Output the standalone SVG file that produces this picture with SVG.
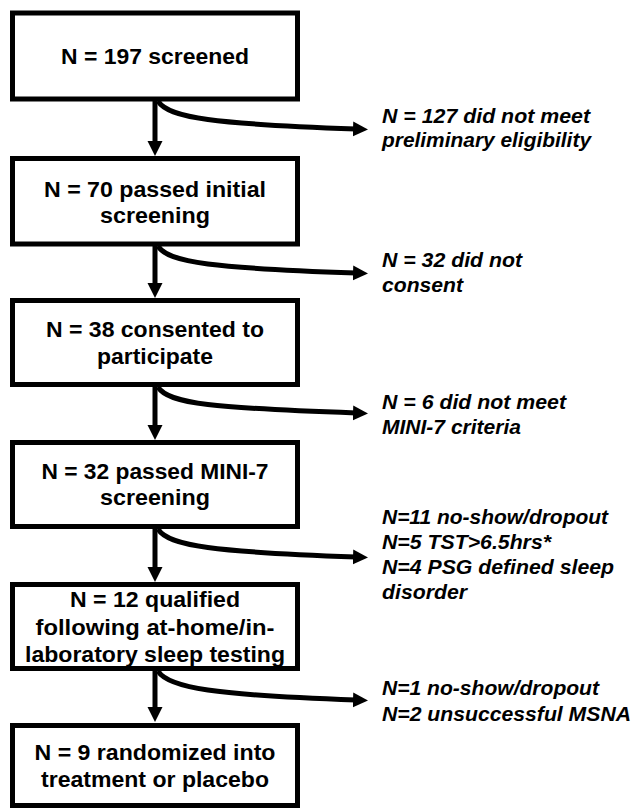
<svg xmlns="http://www.w3.org/2000/svg" width="633" height="810" viewBox="0 0 633 810">
<style>
.box{fill:#fff;stroke:#000;stroke-width:5}
.bt{font-family:"Liberation Sans",Arial,sans-serif;font-size:22.5px;font-weight:bold;text-anchor:middle;fill:#000}
.lt{font-family:"Liberation Sans",Arial,sans-serif;font-size:20px;font-weight:bold;font-style:italic;fill:#000}
.cn{fill:none;stroke:#000;stroke-width:5}
</style>
<defs>
<marker id="ah" markerUnits="userSpaceOnUse" markerWidth="16" markerHeight="16" refX="3" refY="7.5" orient="auto">
<path d="M0,0 L15,7.5 L0,15 z" fill="#000"/>
</marker>
</defs>
<rect width="633" height="810" fill="#fff"/>
<g id="connectors">
<line class="cn" x1="155" y1="101" x2="155" y2="144" marker-end="url(#ah)"/>
<line class="cn" x1="155" y1="246" x2="155" y2="286" marker-end="url(#ah)"/>
<line class="cn" x1="155" y1="387" x2="155" y2="428" marker-end="url(#ah)"/>
<line class="cn" x1="155" y1="529" x2="155" y2="570" marker-end="url(#ah)"/>
<line class="cn" x1="155" y1="671" x2="155" y2="710" marker-end="url(#ah)"/>
<path class="cn" d="M158,101 C168,118 215,124 356,129" marker-end="url(#ah)"/>
<path class="cn" d="M158,246 C168,263 215,268 356,273" marker-end="url(#ah)"/>
<path class="cn" d="M158,387 C168,404 215,408 356,413" marker-end="url(#ah)"/>
<path class="cn" d="M158,529 C168,546 215,552 356,557" marker-end="url(#ah)"/>
<path class="cn" d="M158,671 C168,688 215,695 356,700" marker-end="url(#ah)"/>
</g>
<g id="n1">
<rect class="box" x="12.5" y="13" width="285" height="86"/>
<text class="bt" x="155" y="64" textLength="188" lengthAdjust="spacingAndGlyphs">N = 197 screened</text>
</g>
<g id="n2">
<rect class="box" x="12.5" y="158.5" width="285" height="85.5"/>
<text class="bt" x="155" y="197" textLength="222" lengthAdjust="spacingAndGlyphs">N = 70 passed initial</text>
<text class="bt" x="155" y="223" textLength="110" lengthAdjust="spacingAndGlyphs">screening</text>
</g>
<g id="n3">
<rect class="box" x="12.5" y="300.5" width="285" height="84"/>
<text class="bt" x="155" y="337" textLength="218" lengthAdjust="spacingAndGlyphs">N = 38 consented to</text>
<text class="bt" x="155" y="364" textLength="116" lengthAdjust="spacingAndGlyphs">participate</text>
</g>
<g id="n4">
<rect class="box" x="12.5" y="442.5" width="285" height="84"/>
<text class="bt" x="155" y="479" textLength="227" lengthAdjust="spacingAndGlyphs">N = 32 passed MINI-7</text>
<text class="bt" x="155" y="505" textLength="110" lengthAdjust="spacingAndGlyphs">screening</text>
</g>
<g id="n5">
<rect class="box" x="12.5" y="584.5" width="285" height="84"/>
<text class="bt" x="155" y="607" textLength="170" lengthAdjust="spacingAndGlyphs">N = 12 qualified</text>
<text class="bt" x="155" y="635" textLength="239" lengthAdjust="spacingAndGlyphs">following at-home/in-</text>
<text class="bt" x="155" y="662" textLength="260" lengthAdjust="spacingAndGlyphs">laboratory sleep testing</text>
</g>
<g id="n6">
<rect class="box" x="12.5" y="725.5" width="285" height="80"/>
<text class="bt" x="155" y="760" textLength="241" lengthAdjust="spacingAndGlyphs">N = 9 randomized into</text>
<text class="bt" x="155" y="787" textLength="228" lengthAdjust="spacingAndGlyphs">treatment or placebo</text>
</g>
<g id="x1">
<text class="lt" x="382" y="123" textLength="208" lengthAdjust="spacingAndGlyphs">N = 127 did not meet</text>
<text class="lt" x="382" y="147" textLength="209" lengthAdjust="spacingAndGlyphs">preliminary  eligibility</text>
</g>
<g id="x2">
<text class="lt" x="382" y="267" textLength="140" lengthAdjust="spacingAndGlyphs">N = 32 did not</text>
<text class="lt" x="382" y="292" textLength="81" lengthAdjust="spacingAndGlyphs">consent</text>
</g>
<g id="x3">
<text class="lt" x="382" y="409" textLength="184" lengthAdjust="spacingAndGlyphs">N = 6 did not meet</text>
<text class="lt" x="382" y="434" textLength="139" lengthAdjust="spacingAndGlyphs">MINI-7 criteria</text>
</g>
<g id="x4">
<text class="lt" x="382" y="524" textLength="226" lengthAdjust="spacingAndGlyphs">N=11 no-show/dropout</text>
<text class="lt" x="382" y="549" textLength="169" lengthAdjust="spacingAndGlyphs">N=5 TST&gt;6.5hrs*</text>
<text class="lt" x="382" y="574" textLength="232" lengthAdjust="spacingAndGlyphs">N=4 PSG defined sleep</text>
<text class="lt" x="382" y="599" textLength="85" lengthAdjust="spacingAndGlyphs">disorder</text>
</g>
<g id="x5">
<text class="lt" x="382" y="695" textLength="217" lengthAdjust="spacingAndGlyphs">N=1 no-show/dropout</text>
<text class="lt" x="382" y="721" textLength="249" lengthAdjust="spacingAndGlyphs">N=2 unsuccessful MSNA</text>
</g>
</svg>
